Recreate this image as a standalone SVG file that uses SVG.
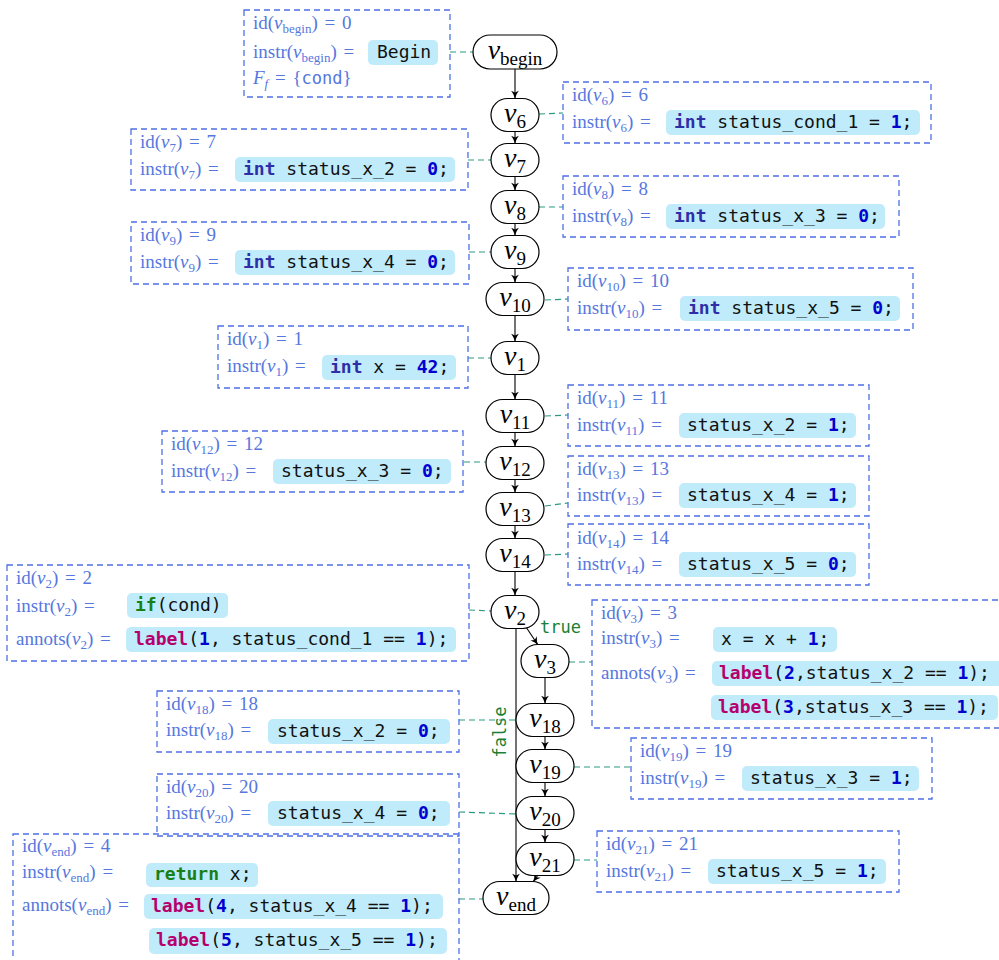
<svg xmlns="http://www.w3.org/2000/svg" width="999" height="960" viewBox="0 0 999 960">
<defs>
<style>
.box{fill:none;stroke:#4d70e6;stroke-width:1.3;stroke-dasharray:6 4}
.cb{fill:#c0ebfa}
.t{font-family:"Liberation Serif",serif;font-size:19px;fill:#5677de;word-spacing:2px}
.t .s{font-size:13px}
.c{font-family:"DejaVu Sans Mono",monospace;font-size:18px;fill:#111}
.kw{font-weight:bold;fill:#2e2ea8}
.num{font-weight:bold;fill:#0000d0}
.lbl{font-weight:bold;fill:#b5006e}
.gk{font-weight:bold;fill:#178017}
.n rect{fill:#fff;stroke:#000;stroke-width:1.2}
.nl{font-family:"Liberation Serif",serif;font-size:28px;font-style:italic;text-anchor:middle;fill:#000}
.nl .s{font-style:normal;font-size:19px}
.d{stroke:#2a9a80;stroke-width:1.2;stroke-dasharray:6 4;fill:none}
.e{stroke:#000;stroke-width:1.1;fill:none;marker-end:url(#ah)}
.el{font-family:"DejaVu Sans Mono",monospace;font-size:17px;fill:#1a7f35}
</style>
<marker id="ah" markerUnits="userSpaceOnUse" markerWidth="9" markerHeight="9" viewBox="0 0 8 8" refX="7.5" refY="4" orient="auto">
<path d="M0.5,0.6 Q3.5,3 7.5,4 Q3.5,5 0.5,7.4 L2.2,4 Z" fill="#000"/>
</marker>
</defs>
<rect width="999" height="960" fill="#fff"/>

<g id="connectors">
<line class="e" x1="515" y1="69" x2="515" y2="98.5"/>
<line class="e" x1="515" y1="131.5" x2="515" y2="143.5"/>
<line class="e" x1="515" y1="176.5" x2="515" y2="190.5"/>
<line class="e" x1="515" y1="223.5" x2="515" y2="235.5"/>
<line class="e" x1="515" y1="268.5" x2="515" y2="282.5"/>
<line class="e" x1="515" y1="315.5" x2="515" y2="341.5"/>
<line class="e" x1="515" y1="374.5" x2="515" y2="399.5"/>
<line class="e" x1="515" y1="432.5" x2="515" y2="446.5"/>
<line class="e" x1="515" y1="479.5" x2="515" y2="492.5"/>
<line class="e" x1="515" y1="525.5" x2="515" y2="538.5"/>
<line class="e" x1="515" y1="571.5" x2="515" y2="595.5"/>
<line class="e" x1="526" y1="627" x2="538" y2="645"/>
<line class="e" x1="545" y1="677.5" x2="545" y2="703.5"/>
<line class="e" x1="545" y1="736.5" x2="545" y2="749.5"/>
<line class="e" x1="545" y1="782.5" x2="545" y2="796.5"/>
<line class="e" x1="545" y1="829.5" x2="545" y2="842.5"/>
<line class="e" x1="538" y1="875" x2="533" y2="882"/>
<line class="e" x1="516" y1="628.5" x2="516" y2="881.5"/>
<text class="el" x="540" y="633">true</text>
<text class="el" transform="translate(506,732) rotate(-90)" text-anchor="middle">false</text>

<line class="d" x1="450" y1="52" x2="473" y2="52"/>
<line class="d" x1="539" y1="114" x2="563" y2="113"/>
<line class="d" x1="468" y1="160" x2="491" y2="160"/>
<line class="d" x1="539" y1="207" x2="563" y2="207"/>
<line class="d" x1="469" y1="252" x2="491" y2="252"/>
<line class="d" x1="545" y1="300" x2="568" y2="299"/>
<line class="d" x1="468" y1="358" x2="491" y2="358"/>
<line class="d" x1="545" y1="416" x2="568" y2="415"/>
<line class="d" x1="464" y1="462" x2="486" y2="462"/>
<line class="d" x1="545" y1="506" x2="568" y2="503"/>
<line class="d" x1="545" y1="555" x2="568" y2="554"/>
<line class="d" x1="469" y1="610" x2="491" y2="611"/>
<line class="d" x1="569" y1="662" x2="592" y2="662"/>
<line class="d" x1="459" y1="720" x2="516" y2="720"/>
<line class="d" x1="574" y1="767" x2="631" y2="767"/>
<line class="d" x1="459" y1="812" x2="516" y2="814"/>
<line class="d" x1="574" y1="860" x2="597" y2="860"/>
<line class="d" x1="459" y1="899" x2="483" y2="899"/>
</g>

<g id="n-begin" class="n"><rect x="473" y="35" width="84" height="34" rx="17"/><text class="nl" x="515" y="59">v<tspan class="s" dy="6">begin</tspan></text></g>
<g id="n-v6" class="n"><rect x="491" y="98.5" width="48" height="33" rx="16.5"/><text class="nl" x="515" y="122">v<tspan class="s" dy="6">6</tspan></text></g>
<g id="n-v7" class="n"><rect x="491" y="143.5" width="48" height="33" rx="16.5"/><text class="nl" x="515" y="167">v<tspan class="s" dy="6">7</tspan></text></g>
<g id="n-v8" class="n"><rect x="491" y="190.5" width="48" height="33" rx="16.5"/><text class="nl" x="515" y="214">v<tspan class="s" dy="6">8</tspan></text></g>
<g id="n-v9" class="n"><rect x="491" y="235.5" width="48" height="33" rx="16.5"/><text class="nl" x="515" y="259">v<tspan class="s" dy="6">9</tspan></text></g>
<g id="n-v10" class="n"><rect x="486" y="282.5" width="58" height="33" rx="16.5"/><text class="nl" x="515" y="306">v<tspan class="s" dy="6">10</tspan></text></g>
<g id="n-v1" class="n"><rect x="491" y="341.5" width="48" height="33" rx="16.5"/><text class="nl" x="515" y="365">v<tspan class="s" dy="6">1</tspan></text></g>
<g id="n-v11" class="n"><rect x="486" y="399.5" width="58" height="33" rx="16.5"/><text class="nl" x="515" y="423">v<tspan class="s" dy="6">11</tspan></text></g>
<g id="n-v12" class="n"><rect x="486" y="446.5" width="58" height="33" rx="16.5"/><text class="nl" x="515" y="470">v<tspan class="s" dy="6">12</tspan></text></g>
<g id="n-v13" class="n"><rect x="486" y="492.5" width="58" height="33" rx="16.5"/><text class="nl" x="515" y="516">v<tspan class="s" dy="6">13</tspan></text></g>
<g id="n-v14" class="n"><rect x="486" y="538.5" width="58" height="33" rx="16.5"/><text class="nl" x="515" y="562">v<tspan class="s" dy="6">14</tspan></text></g>
<g id="n-v2" class="n"><rect x="491" y="595.5" width="48" height="33" rx="16.5"/><text class="nl" x="515" y="619">v<tspan class="s" dy="6">2</tspan></text></g>
<g id="n-v3" class="n"><rect x="521" y="644.5" width="48" height="33" rx="16.5"/><text class="nl" x="545" y="668">v<tspan class="s" dy="6">3</tspan></text></g>
<g id="n-v18" class="n"><rect x="516" y="703.5" width="58" height="33" rx="16.5"/><text class="nl" x="545" y="727">v<tspan class="s" dy="6">18</tspan></text></g>
<g id="n-v19" class="n"><rect x="516" y="749.5" width="58" height="33" rx="16.5"/><text class="nl" x="545" y="773">v<tspan class="s" dy="6">19</tspan></text></g>
<g id="n-v20" class="n"><rect x="516" y="796.5" width="58" height="33" rx="16.5"/><text class="nl" x="545" y="820">v<tspan class="s" dy="6">20</tspan></text></g>
<g id="n-v21" class="n"><rect x="516" y="842.5" width="58" height="33" rx="16.5"/><text class="nl" x="545" y="866">v<tspan class="s" dy="6">21</tspan></text></g>
<g id="n-end" class="n"><rect x="483" y="881.5" width="66" height="33" rx="16.5"/><text class="nl" x="516" y="905">v<tspan class="s" dy="6">end</tspan></text></g>

<g id="i-begin">
<rect class="box" x="244" y="10" width="206" height="87"/>
<text class="t" x="253" y="29">id(<tspan font-style="italic">v</tspan><tspan class="s" dy="4">begin</tspan><tspan dy="-4">) = 0</tspan></text>
<text class="t" x="253" y="58">instr(<tspan font-style="italic">v</tspan><tspan class="s" dy="4">begin</tspan><tspan dy="-4">) =</tspan></text>
<rect class="cb" x="368" y="40" width="70" height="25" rx="5"/>
<text class="c" x="377" y="58">Begin</text>
<text class="t" x="253" y="84"><tspan font-style="italic">F</tspan><tspan class="s" font-style="italic" dy="4">f</tspan><tspan dy="-4"> = {</tspan><tspan font-family="DejaVu Sans Mono,monospace" font-size="17">cond</tspan>}</text>
</g>

<g id="i-v6">
<rect class="box" x="563" y="82" width="368" height="61"/>
<text class="t" x="572" y="101">id(<tspan font-style="italic">v</tspan><tspan class="s" dy="4">6</tspan><tspan dy="-4">) = 6</tspan></text>
<text class="t" x="572" y="128">instr(<tspan font-style="italic">v</tspan><tspan class="s" dy="4">6</tspan><tspan dy="-4">) =</tspan></text>
<rect class="cb" x="666" y="110" width="254" height="25" rx="5"/>
<text class="c" x="674" y="128"><tspan class="kw">int</tspan> status_cond_1 = <tspan class="num">1</tspan>;</text>
</g>

<g id="i-v7">
<rect class="box" x="131" y="129" width="337" height="61"/>
<text class="t" x="140" y="148">id(<tspan font-style="italic">v</tspan><tspan class="s" dy="4">7</tspan><tspan dy="-4">) = 7</tspan></text>
<text class="t" x="140" y="175">instr(<tspan font-style="italic">v</tspan><tspan class="s" dy="4">7</tspan><tspan dy="-4">) =</tspan></text>
<rect class="cb" x="235" y="157" width="220" height="25" rx="5"/>
<text class="c" x="243" y="175"><tspan class="kw">int</tspan> status_x_2 = <tspan class="num">0</tspan>;</text>
</g>

<g id="i-v8">
<rect class="box" x="563" y="176" width="336" height="61"/>
<text class="t" x="572" y="195">id(<tspan font-style="italic">v</tspan><tspan class="s" dy="4">8</tspan><tspan dy="-4">) = 8</tspan></text>
<text class="t" x="572" y="222">instr(<tspan font-style="italic">v</tspan><tspan class="s" dy="4">8</tspan><tspan dy="-4">) =</tspan></text>
<rect class="cb" x="666" y="204" width="219" height="25" rx="5"/>
<text class="c" x="674" y="222"><tspan class="kw">int</tspan> status_x_3 = <tspan class="num">0</tspan>;</text>
</g>

<g id="i-v9">
<rect class="box" x="131" y="222" width="338" height="62"/>
<text class="t" x="140" y="241">id(<tspan font-style="italic">v</tspan><tspan class="s" dy="4">9</tspan><tspan dy="-4">) = 9</tspan></text>
<text class="t" x="140" y="268">instr(<tspan font-style="italic">v</tspan><tspan class="s" dy="4">9</tspan><tspan dy="-4">) =</tspan></text>
<rect class="cb" x="235" y="250" width="220" height="25" rx="5"/>
<text class="c" x="243" y="268"><tspan class="kw">int</tspan> status_x_4 = <tspan class="num">0</tspan>;</text>
</g>

<g id="i-v10">
<rect class="box" x="568" y="268" width="345" height="62"/>
<text class="t" x="577" y="287">id(<tspan font-style="italic">v</tspan><tspan class="s" dy="4">10</tspan><tspan dy="-4">) = 10</tspan></text>
<text class="t" x="577" y="314">instr(<tspan font-style="italic">v</tspan><tspan class="s" dy="4">10</tspan><tspan dy="-4">) =</tspan></text>
<rect class="cb" x="680" y="296" width="220" height="25" rx="5"/>
<text class="c" x="688" y="314"><tspan class="kw">int</tspan> status_x_5 = <tspan class="num">0</tspan>;</text>
</g>

<g id="i-v1">
<rect class="box" x="218" y="326" width="250" height="62"/>
<text class="t" x="227" y="345">id(<tspan font-style="italic">v</tspan><tspan class="s" dy="4">1</tspan><tspan dy="-4">) = 1</tspan></text>
<text class="t" x="227" y="372">instr(<tspan font-style="italic">v</tspan><tspan class="s" dy="4">1</tspan><tspan dy="-4">) =</tspan></text>
<rect class="cb" x="322" y="355" width="134" height="25" rx="5"/>
<text class="c" x="330" y="373"><tspan class="kw">int</tspan> x = <tspan class="num">42</tspan>;</text>
</g>

<g id="i-v11">
<rect class="box" x="568" y="385" width="301" height="61"/>
<text class="t" x="577" y="404">id(<tspan font-style="italic">v</tspan><tspan class="s" dy="4">11</tspan><tspan dy="-4">) = 11</tspan></text>
<text class="t" x="577" y="431">instr(<tspan font-style="italic">v</tspan><tspan class="s" dy="4">11</tspan><tspan dy="-4">) =</tspan></text>
<rect class="cb" x="679" y="413" width="177" height="25" rx="5"/>
<text class="c" x="687" y="431">status_x_2 = <tspan class="num">1</tspan>;</text>
</g>

<g id="i-v12">
<rect class="box" x="162" y="431" width="301" height="61"/>
<text class="t" x="171" y="450">id(<tspan font-style="italic">v</tspan><tspan class="s" dy="4">12</tspan><tspan dy="-4">) = 12</tspan></text>
<text class="t" x="171" y="477">instr(<tspan font-style="italic">v</tspan><tspan class="s" dy="4">12</tspan><tspan dy="-4">) =</tspan></text>
<rect class="cb" x="273" y="459" width="178" height="25" rx="5"/>
<text class="c" x="281" y="477">status_x_3 = <tspan class="num">0</tspan>;</text>
</g>

<g id="i-v13">
<rect class="box" x="568" y="456" width="301" height="60"/>
<text class="t" x="577" y="475">id(<tspan font-style="italic">v</tspan><tspan class="s" dy="4">13</tspan><tspan dy="-4">) = 13</tspan></text>
<text class="t" x="577" y="501">instr(<tspan font-style="italic">v</tspan><tspan class="s" dy="4">13</tspan><tspan dy="-4">) =</tspan></text>
<rect class="cb" x="679" y="483" width="177" height="25" rx="5"/>
<text class="c" x="687" y="501">status_x_4 = <tspan class="num">1</tspan>;</text>
</g>

<g id="i-v14">
<rect class="box" x="568" y="524" width="301" height="61"/>
<text class="t" x="577" y="544">id(<tspan font-style="italic">v</tspan><tspan class="s" dy="4">14</tspan><tspan dy="-4">) = 14</tspan></text>
<text class="t" x="577" y="570">instr(<tspan font-style="italic">v</tspan><tspan class="s" dy="4">14</tspan><tspan dy="-4">) =</tspan></text>
<rect class="cb" x="679" y="552" width="177" height="25" rx="5"/>
<text class="c" x="687" y="570">status_x_5 = <tspan class="num">0</tspan>;</text>
</g>

<g id="i-v2">
<rect class="box" x="7" y="565" width="462" height="96"/>
<text class="t" x="16" y="584">id(<tspan font-style="italic">v</tspan><tspan class="s" dy="4">2</tspan><tspan dy="-4">) = 2</tspan></text>
<text class="t" x="16" y="612">instr(<tspan font-style="italic">v</tspan><tspan class="s" dy="4">2</tspan><tspan dy="-4">) =</tspan></text>
<rect class="cb" x="127" y="593" width="101" height="25" rx="5"/>
<text class="c" x="135" y="611"><tspan class="gk">if</tspan>(cond)</text>
<text class="t" x="16" y="645">annots(<tspan font-style="italic">v</tspan><tspan class="s" dy="4">2</tspan><tspan dy="-4">) =</tspan></text>
<rect class="cb" x="126" y="627" width="330" height="25" rx="5"/>
<text class="c" x="134" y="645"><tspan class="lbl">label</tspan>(<tspan class="num">1</tspan>, status_cond_1 == <tspan class="num">1</tspan>);</text>
</g>

<g id="i-v3">
<rect class="box" x="592" y="600" width="415" height="128"/>
<text class="t" x="601" y="619">id(<tspan font-style="italic">v</tspan><tspan class="s" dy="4">3</tspan><tspan dy="-4">) = 3</tspan></text>
<text class="t" x="601" y="644">instr(<tspan font-style="italic">v</tspan><tspan class="s" dy="4">3</tspan><tspan dy="-4">) =</tspan></text>
<rect class="cb" x="713" y="627" width="124" height="25" rx="5"/>
<text class="c" x="721" y="645">x = x + <tspan class="num">1</tspan>;</text>
<text class="t" x="601" y="679">annots(<tspan font-style="italic">v</tspan><tspan class="s" dy="4">3</tspan><tspan dy="-4">) =</tspan></text>
<rect class="cb" x="712" y="661" width="295" height="25" rx="5"/>
<text class="c" x="719" y="679"><tspan class="lbl">label</tspan>(<tspan class="num">2</tspan>,status_x_2 == <tspan class="num">1</tspan>);</text>
<rect class="cb" x="711" y="695" width="287" height="25" rx="5"/>
<text class="c" x="718" y="713"><tspan class="lbl">label</tspan>(<tspan class="num">3</tspan>,status_x_3 == <tspan class="num">1</tspan>);</text>
</g>

<g id="i-v18">
<rect class="box" x="157" y="691" width="302" height="61"/>
<text class="t" x="166" y="710">id(<tspan font-style="italic">v</tspan><tspan class="s" dy="4">18</tspan><tspan dy="-4">) = 18</tspan></text>
<text class="t" x="166" y="736">instr(<tspan font-style="italic">v</tspan><tspan class="s" dy="4">18</tspan><tspan dy="-4">) =</tspan></text>
<rect class="cb" x="268" y="719" width="182" height="25" rx="5"/>
<text class="c" x="277" y="737">status_x_2 = <tspan class="num">0</tspan>;</text>
</g>

<g id="i-v19">
<rect class="box" x="631" y="738" width="301" height="61"/>
<text class="t" x="640" y="757">id(<tspan font-style="italic">v</tspan><tspan class="s" dy="4">19</tspan><tspan dy="-4">) = 19</tspan></text>
<text class="t" x="640" y="784">instr(<tspan font-style="italic">v</tspan><tspan class="s" dy="4">19</tspan><tspan dy="-4">) =</tspan></text>
<rect class="cb" x="742" y="766" width="177" height="25" rx="5"/>
<text class="c" x="750" y="784">status_x_3 = <tspan class="num">1</tspan>;</text>
</g>

<g id="i-v20">
<rect class="box" x="157" y="774" width="302" height="62"/>
<text class="t" x="166" y="793">id(<tspan font-style="italic">v</tspan><tspan class="s" dy="4">20</tspan><tspan dy="-4">) = 20</tspan></text>
<text class="t" x="166" y="819">instr(<tspan font-style="italic">v</tspan><tspan class="s" dy="4">20</tspan><tspan dy="-4">) =</tspan></text>
<rect class="cb" x="268" y="801" width="182" height="25" rx="5"/>
<text class="c" x="277" y="819">status_x_4 = <tspan class="num">0</tspan>;</text>
</g>

<g id="i-v21">
<rect class="box" x="597" y="831" width="302" height="61"/>
<text class="t" x="606" y="850">id(<tspan font-style="italic">v</tspan><tspan class="s" dy="4">21</tspan><tspan dy="-4">) = 21</tspan></text>
<text class="t" x="606" y="877">instr(<tspan font-style="italic">v</tspan><tspan class="s" dy="4">21</tspan><tspan dy="-4">) =</tspan></text>
<rect class="cb" x="708" y="859" width="178" height="25" rx="5"/>
<text class="c" x="716" y="877">status_x_5 = <tspan class="num">1</tspan>;</text>
</g>

<g id="i-end">
<rect class="box" x="13" y="834" width="446" height="140"/>
<text class="t" x="22" y="852">id(<tspan font-style="italic">v</tspan><tspan class="s" dy="4">end</tspan><tspan dy="-4">) = 4</tspan></text>
<text class="t" x="22" y="878">instr(<tspan font-style="italic">v</tspan><tspan class="s" dy="4">end</tspan><tspan dy="-4">) =</tspan></text>
<rect class="cb" x="146" y="863" width="112" height="24" rx="5"/>
<text class="c" x="154" y="880"><tspan class="gk">return</tspan> x;</text>
<text class="t" x="22" y="911">annots(<tspan font-style="italic">v</tspan><tspan class="s" dy="4">end</tspan><tspan dy="-4">) =</tspan></text>
<rect class="cb" x="144" y="894" width="299" height="25" rx="5"/>
<text class="c" x="151" y="912"><tspan class="lbl">label</tspan>(<tspan class="num">4</tspan>, status_x_4 == <tspan class="num">1</tspan>);</text>
<rect class="cb" x="149" y="928" width="298" height="26" rx="5"/>
<text class="c" x="156" y="946"><tspan class="lbl">label</tspan>(<tspan class="num">5</tspan>, status_x_5 == <tspan class="num">1</tspan>);</text>
</g>
</svg>
